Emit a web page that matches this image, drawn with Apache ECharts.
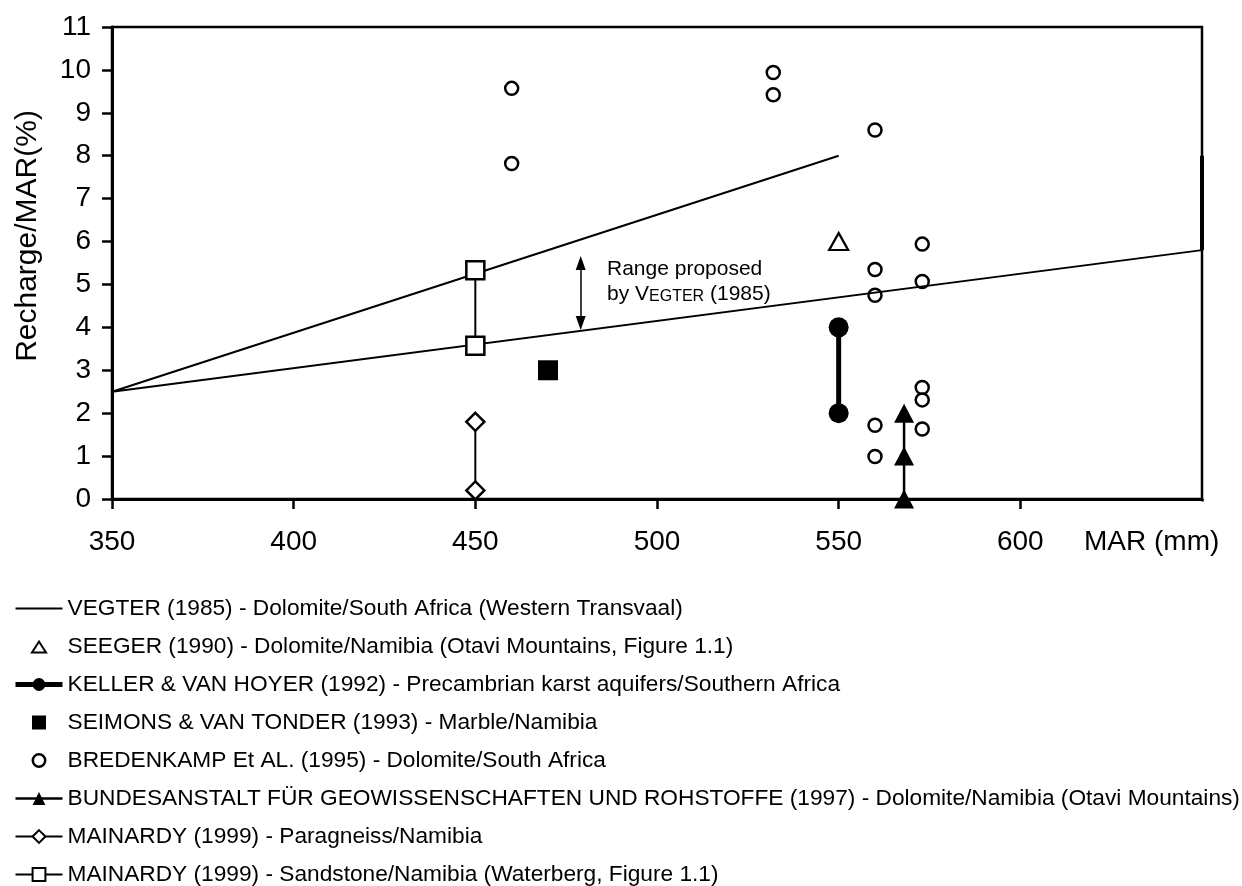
<!DOCTYPE html>
<html>
<head>
<meta charset="utf-8">
<script src="https://cdn.jsdelivr.net/npm/echarts@6/dist/echarts.min.js"></script>
<style>
html,body{margin:0;padding:0;background:#fff;}
#chart{width:1242px;height:886px;}
</style>
</head>
<body>
<div id="chart"></div>
<script>
// ---- data ----
const xMin = 350, xMax = 650, xStep = 50;
const yMin = 0, yMax = 11, yStep = 1;
const xAxisTitle = 'MAR (mm)';
const yAxisTitle = 'Recharge/MAR(%)';

const seriesNames = [
  'VEGTER (1985) - Dolomite/South Africa (Western Transvaal)',
  'SEEGER (1990) - Dolomite/Namibia (Otavi Mountains, Figure 1.1)',
  'KELLER & VAN HOYER (1992) - Precambrian karst aquifers/Southern Africa',
  'SEIMONS & VAN TONDER (1993) - Marble/Namibia',
  'BREDENKAMP Et AL. (1995) - Dolomite/South Africa',
  'BUNDESANSTALT FÜR GEOWISSENSCHAFTEN UND ROHSTOFFE (1997) - Dolomite/Namibia (Otavi Mountains)',
  'MAINARDY (1999) - Paragneiss/Namibia',
  'MAINARDY (1999) - Sandstone/Namibia (Waterberg, Figure 1.1)'
];

const vegterPath = [[550, 8], [350, 2.5], [650, 5.8]];
const vegterEdge = [[650, 5.8], [650, 8]];
const seeger = [[550, 6]];
const keller = [[550, 4], [550, 2]];
const seimons = [[470, 3]];
const bredenkamp = [
  [460, 9.57], [460, 7.82],
  [532, 9.94], [532, 9.42],
  [560, 8.6], [560, 5.35], [560, 4.75], [560, 1.72], [560, 0.99],
  [573, 5.94], [573, 5.07], [573, 2.6], [573, 2.31], [573, 1.63]
];
const bundesanstalt = [[568, 0], [568, 1], [568, 2]];
const mainardyParagneiss = [[450, 0.2], [450, 1.8]];
const mainardySandstone = [[450, 3.57], [450, 5.33]];
const rangeArrow = [[479, 4.1], [479, 5.5]];

// ---- chart ----
const FONT = '"Liberation Sans", Arial, Helvetica, sans-serif';
const chart = echarts.init(document.getElementById('chart'), null, {renderer: 'canvas'});

const openStyle = {color: '#fff', borderColor: '#000', borderWidth: 2.5, opacity: 1};
const filledStyle = {color: '#000', borderColor: '#000', borderWidth: 0, opacity: 1};

const ICON_TRIANGLE = 'path://M0,0M16,16M1,14L8,3L15,14Z';
const ICON_SQUARE = 'path://M0,0M16,16M1,1L15,1L15,15L1,15Z';
const ICON_CIRCLE_OPEN = 'path://M0,0M16,16M8,1.8A6.2,6.2,0,1,1,7.99,1.8Z';

const legendData = [
  {name: seriesNames[0], itemStyle: {opacity: 0}},
  {name: seriesNames[1], icon: ICON_TRIANGLE, itemStyle: {color: '#fff', borderColor: '#000', borderWidth: 2}},
  {name: seriesNames[2], lineStyle: {width: 5}},
  {name: seriesNames[3], icon: ICON_SQUARE},
  {name: seriesNames[4], icon: ICON_CIRCLE_OPEN, itemStyle: {color: '#fff', borderColor: '#000', borderWidth: 2.5}},
  {name: seriesNames[5], lineStyle: {width: 2.5}},
  {name: seriesNames[6]},
  {name: seriesNames[7]}
];

const option = {
  backgroundColor: '#fff',
  animation: false,
  textStyle: {fontFamily: FONT, color: '#000'},
  grid: {
    left: 112, right: 40, top: 27, bottom: 387,
    show: true, borderColor: '#000', borderWidth: 2.5, backgroundColor: 'transparent'
  },
  xAxis: {
    type: 'value', min: xMin, max: xMax, interval: xStep,
    splitLine: {show: false},
    axisLine: {lineStyle: {color: '#000', width: 3}},
    axisTick: {show: true, inside: false, length: 10, lineStyle: {color: '#000', width: 2.5}},
    axisLabel: {
      fontFamily: FONT, fontSize: 28, color: '#000', margin: 29,
      formatter: v => (v >= xMax ? '' : String(v))
    }
  },
  yAxis: {
    type: 'value', min: yMin, max: yMax, interval: yStep,
    splitLine: {show: false},
    axisLine: {show: true, lineStyle: {color: '#000', width: 3}},
    axisTick: {show: true, inside: false, length: 10, lineStyle: {color: '#000', width: 2.5}},
    axisLabel: {fontFamily: FONT, fontSize: 28, color: '#000', margin: 21}
  },
  legend: {
    orient: 'vertical', left: 13, top: 597, padding: 0, height: 320,
    itemWidth: 47, itemHeight: 16, itemGap: 15,
    data: legendData,
    textStyle: {fontFamily: FONT, fontSize: 22.7, color: '#000', lineHeight: 22},
    selectedMode: false
  },
  graphic: [
    {
      type: 'text', x: 28, y: 236, rotation: Math.PI / 2,
      style: {text: yAxisTitle, font: '30px ' + FONT, fill: '#000', align: 'center', verticalAlign: 'middle'}
    },
    {
      type: 'text', x: 1084, y: 528,
      style: {text: xAxisTitle, font: '28px ' + FONT, fill: '#000', align: 'left', verticalAlign: 'top'}
    },
    {
      type: 'text', x: 607, y: 255,
      style: {
        text: '{s|Range proposed}\n{s|by V}{c|EGTER}{s| (1985)}',
        fill: '#000',
        rich: {
          s: {fontFamily: FONT, fontSize: 21, lineHeight: 25, fill: '#000', verticalAlign: 'bottom'},
          c: {fontFamily: FONT, fontSize: 16, lineHeight: 21, fill: '#000', verticalAlign: 'bottom'}
        }
      }
    },
    {
      // hide the outward tick at the axis end (the reference has none there)
      type: 'rect', z: 100, shape: {x: 1198, y: 501.5, width: 10, height: 12},
      style: {fill: '#fff'}
    }
  ],
  series: [
    {
      name: seriesNames[0], type: 'line', data: vegterPath,
      symbol: 'none', clip: false,
      lineStyle: {color: '#000', width: 2},
      itemStyle: {color: '#000'}
    },
    {
      name: 'vegter-edge', type: 'line', data: vegterEdge,
      symbol: 'none', clip: false,
      lineStyle: {color: '#000', width: 4}
    },
    {
      name: seriesNames[1], type: 'scatter', data: seeger,
      symbol: 'triangle', symbolSize: [19, 17],
      itemStyle: {color: '#fff', borderColor: '#000', borderWidth: 2.2, opacity: 1}
    },
    {
      name: seriesNames[2], type: 'line', data: keller,
      symbol: 'circle', symbolSize: 20, showAllSymbol: true,
      lineStyle: {color: '#000', width: 5},
      itemStyle: filledStyle
    },
    {
      name: seriesNames[3], type: 'scatter', data: seimons,
      symbol: 'rect', symbolSize: 20,
      itemStyle: filledStyle
    },
    {
      name: seriesNames[4], type: 'scatter', data: bredenkamp,
      symbol: 'circle', symbolSize: 13,
      itemStyle: openStyle
    },
    {
      name: seriesNames[5], type: 'line', data: bundesanstalt,
      symbol: 'triangle', symbolSize: [20, 19], showAllSymbol: true, clip: false,
      lineStyle: {color: '#000', width: 2.5},
      itemStyle: filledStyle
    },
    {
      name: seriesNames[6], type: 'line', data: mainardyParagneiss,
      symbol: 'diamond', symbolSize: [18, 18], showAllSymbol: true,
      lineStyle: {color: '#000', width: 2},
      itemStyle: openStyle
    },
    {
      name: seriesNames[7], type: 'line', data: mainardySandstone,
      symbol: 'rect', symbolSize: 18, showAllSymbol: true,
      lineStyle: {color: '#000', width: 2},
      itemStyle: openStyle
    },
    {
      name: 'range-arrow', type: 'line', data: [],
      markLine: {
        silent: true, animation: false,
        symbol: ['triangle', 'triangle'], symbolSize: [10, 14],
        label: {show: false},
        lineStyle: {color: '#000', width: 1.5, type: 'solid'},
        data: [[{coord: rangeArrow[0]}, {coord: rangeArrow[1]}]]
      }
    }
  ]
};
chart.setOption(option);
</script>
</body>
</html>
